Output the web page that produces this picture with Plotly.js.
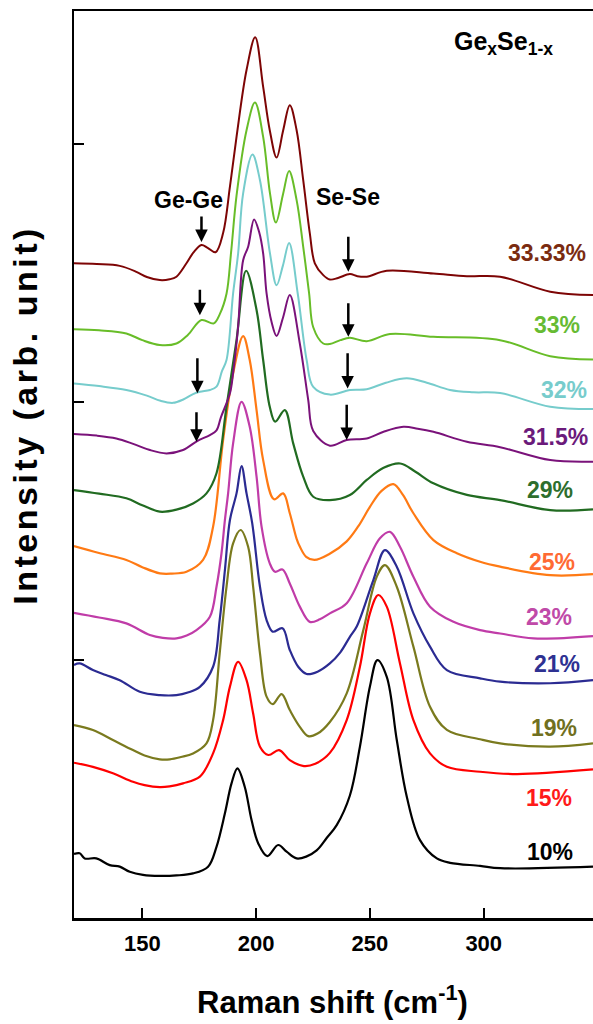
<!DOCTYPE html>
<html>
<head>
<meta charset="utf-8">
<script src="https://cdn.plot.ly/plotly-3.0.1.min.js"></script>
<style>
html,body{margin:0;padding:0;overflow:hidden;background:#fff;}
#chart{width:593px;height:1024px;}
</style>
</head>
<body>
<div id="chart"></div>
<script>
// Raman shift (cm-1) and stacked intensity (arb. unit) for each composition
const x10 = [120,122.5,124.7,129.8,135.7,140.1,144.5,150.3,157.7,165,172.3,178.9,182.6,186.3,189.2,191.8,195,198,200.9,204.9,209.7,213.4,217.8,222,226.6,231,235.4,241.2,245.6,250,253.3,257.4,261.8,266.2,272,279.4,285.2,298.4,307.2,348];
const y10 = [0.248,0.251,0.231,0.231,0.205,0.199,0.179,0.167,0.163,0.165,0.173,0.199,0.276,0.406,0.522,0.580,0.509,0.380,0.290,0.240,0.283,0.257,0.231,0.238,0.262,0.31,0.36,0.475,0.664,0.897,1.0,0.935,0.690,0.470,0.302,0.231,0.214,0.202,0.193,0.199];

const x15 = [120,128.3,137.1,145.9,151,157.7,162,167.9,175.3,181.1,185.5,188.5,192.1,195.8,198.7,201.7,205.4,210.1,214.8,221,226,232.4,239.8,245.6,250,253.7,257.4,263.2,269.1,276.4,283.8,298.4,314.6,348];
const y15 = [0.602,0.586,0.561,0.528,0.515,0.507,0.510,0.522,0.548,0.638,0.767,0.897,0.993,0.922,0.793,0.664,0.632,0.651,0.612,0.589,0.598,0.64,0.767,0.974,1.181,1.252,1.207,0.987,0.767,0.638,0.586,0.567,0.558,0.576];

const x19 = [120,128.3,137.1,145.9,151,157.7,162.1,167,172.3,178.2,181.1,184,187,189.9,193.2,196.5,198.7,201.7,204.6,207.3,211.2,214.8,219.2,222.9,227,232.4,239.8,247.1,253,256.6,261.8,269.1,276.4,283.8,298.4,307.2,329.2,348];
const y19 = [0.748,0.729,0.690,0.651,0.630,0.615,0.615,0.624,0.638,0.677,0.767,1.026,1.284,1.452,1.504,1.439,1.284,1.026,0.858,0.829,0.868,0.806,0.741,0.705,0.715,0.76,0.871,1.116,1.323,1.368,1.284,1.052,0.819,0.729,0.693,0.677,0.664,0.677];

const x21 = [120,122.5,128.3,134,140.1,148.9,157.7,165,170,175.3,181.1,184,186.3,188.5,191.4,193.6,195.8,198.3,201.7,204.6,207.3,211.6,214.8,218.5,222.2,227,232.4,237,241.2,244.2,251.5,256.6,261.8,269.1,276.4,283.8,298.4,307.2,329.2,348];
const y21 = [0.981,0.987,0.961,0.942,0.922,0.877,0.864,0.864,0.874,0.896,0.974,1.155,1.349,1.543,1.646,1.752,1.646,1.530,1.284,1.155,1.110,1.123,1.039,0.974,0.946,0.955,0.987,1.03,1.09,1.13,1.310,1.426,1.362,1.181,1.052,0.961,0.929,0.916,0.910,0.922];

const x23 = [120,131,143,153.3,159,165,169.5,173.8,179.7,182.6,184.8,186.3,187.7,189.9,193.6,197.2,200.2,202.4,206,208.3,211.6,214.8,219.2,223.6,228,232.4,239.8,248.6,254.4,258.8,263.2,269.1,276.4,286.7,298.4,307.2,321.9,348];
const y23 = [1.183,1.165,1.142,1.097,1.086,1.084,1.095,1.116,1.168,1.284,1.414,1.543,1.646,1.840,2.001,1.904,1.711,1.517,1.375,1.342,1.351,1.297,1.207,1.148,1.158,1.181,1.220,1.375,1.472,1.497,1.439,1.323,1.207,1.148,1.116,1.103,1.084,1.093];

const x25 = [120,131,143,150,157.7,163,169.4,176.7,181.1,185.5,189.9,194.3,197.2,200.2,203.1,207.9,211.9,214.8,217.8,219.2,222,225.6,232,239.8,245,250,255,260.3,264.5,269.1,277.9,288.2,298.4,307.2,329.2,348];
const y25 = [1.442,1.415,1.388,1.36,1.336,1.335,1.342,1.388,1.517,1.853,2.111,2.256,2.163,1.969,1.775,1.623,1.646,1.569,1.47,1.44,1.40,1.388,1.41,1.46,1.52,1.594,1.655,1.682,1.64,1.569,1.465,1.414,1.381,1.362,1.329,1.333];

const x29 = [120,131,143,150,157.7,165,172.3,178.2,182.6,187,191.4,195.6,200.2,203.1,206,208.4,212.6,216.3,220.7,225.1,232.4,241.2,248.6,256,263.3,270,277.9,292.6,307.2,329.2,348];
const y29 = [1.659,1.645,1.627,1.600,1.575,1.583,1.607,1.646,1.724,1.982,2.240,2.509,2.357,2.163,1.982,1.924,1.969,1.840,1.711,1.633,1.620,1.640,1.698,1.745,1.762,1.73,1.685,1.640,1.62,1.581,1.584];

const x315 = [120,130,138.6,146,153,160.6,167.9,174.1,179.7,182.6,184.5,188.5,190,192.1,194.3,196.5,199.1,201.3,203.1,204.6,206.8,209,211.9,214.8,219.2,222.9,225.1,232.4,239.8,248.6,256,264.7,271,277.9,292.6,307.2,329.2,348];
const y315 = [1.876,1.870,1.859,1.838,1.815,1.801,1.814,1.849,1.872,1.89,1.94,2.034,2.12,2.292,2.55,2.602,2.708,2.66,2.576,2.421,2.31,2.256,2.33,2.415,2.227,2.008,1.888,1.831,1.853,1.859,1.885,1.904,1.897,1.885,1.846,1.825,1.775,1.769];

const x32 = [120,131,143,152,158,163.5,168,172.3,175.3,179.7,182.6,185,187,189.9,192.1,194.3,198.4,201.7,206.1,209,211.8,214.5,218.3,222.2,225.1,232.4,241.2,248.6,257,266.2,275,285.2,295.5,307.2,329.2,348];
const y32 = [2.072,2.062,2.047,2.025,2.005,1.997,2.010,2.031,2.040,2.047,2.06,2.12,2.163,2.421,2.576,2.809,2.960,2.860,2.576,2.453,2.53,2.617,2.42,2.163,2.059,2.029,2.047,2.05,2.075,2.092,2.075,2.047,2.038,2.035,1.982,1.973];

const x33 = [120,131,143,150,157.7,165,170,176,181.4,184,187,189,191.4,195.8,199.5,203.1,206.1,208.7,211.9,214.5,217.8,220.7,223.3,225.1,229.5,232.4,237,241.2,248.6,258.8,277.9,307.2,329.2,348];
const y33 = [2.282,2.278,2.266,2.240,2.221,2.227,2.26,2.318,2.305,2.34,2.42,2.58,2.80,3.054,3.161,3.028,2.809,2.696,2.809,2.896,2.783,2.602,2.42,2.29,2.227,2.225,2.24,2.249,2.236,2.264,2.253,2.240,2.178,2.165];

const x3333 = [120,130,140.1,147.4,152,157.7,162,165,169.4,172.5,176,178.7,182.2,185.5,188.5,191.4,195.8,199.6,203.1,206,209,211.9,214.8,217.8,220.7,223.6,225.8,229.5,232.4,236,241.2,244.5,248.6,257.4,277.9,292.6,307.2,329.2,348];
const y3333 = [2.538,2.535,2.528,2.505,2.485,2.473,2.476,2.486,2.538,2.58,2.609,2.598,2.581,2.655,2.835,3.028,3.287,3.414,3.222,3.054,2.948,3.054,3.151,3.054,2.860,2.654,2.538,2.492,2.475,2.481,2.496,2.488,2.486,2.509,2.498,2.488,2.486,2.428,2.415];

const seriesLabels = ['10%','15%','19%','21%','23%','25%','29%','31.5%','32%','33%','33.33%'];
const seriesX = [x10,x15,x19,x21,x23,x25,x29,x315,x32,x33,x3333];
const seriesY = [y10,y15,y19,y21,y23,y25,y29,y315,y32,y33,y3333];
const lineColors = ['#000000','#ff0000','#7a7a1e','#2b2b92','#c03ca8','#ff7a14','#216b21','#7a127a','#76cccc','#68bd28','#7d0505'];
const labelColors = ['#000000','#ff1a1a','#707020','#2e3192','#c04aa8','#ff6a33','#2d6e2d','#6b1a7b','#77cccc','#66bb33','#7a2b10'];
// label anchor points (data coords)
const labelPosX = [329.2,328.8,330.7,332.4,328.5,330,329.2,331.4,335.1,332.2,327.8];
const labelPosY = [0.257,0.464,0.735,0.983,1.168,1.381,1.659,1.866,2.047,2.298,2.576];

const xTicks = [150,200,250,300];

const font = 'Liberation Sans, Arial, Helvetica, sans-serif';

const traces = seriesLabels.map((name,i)=>({
  type:'scatter', mode:'lines', name:name,
  x:seriesX[i], y:seriesY[i],
  line:{color:lineColors[i], width:(i<7?2.2:2), shape:'spline', smoothing:1},
  hoverinfo:'skip'
}));

const annotations = [];
seriesLabels.forEach((t,i)=>{
  annotations.push({x:labelPosX[i], y:labelPosY[i], xref:'x', yref:'y', text:'<b>'+t+'</b>',
    showarrow:false, xanchor:'center', yanchor:'middle',
    font:{family:font, size:23, color:labelColors[i]}});
});

// arrows: [x, tipY, tailY]
const arrows = [
  [176.0,2.621,2.725],[175.3,2.337,2.441],[174.2,2.034,2.176],[173.8,1.846,1.966],
  [240.5,2.505,2.647],[240.5,2.253,2.389],[240.2,2.053,2.195],[239.8,1.853,1.995]
];
arrows.forEach(a=>{
  annotations.push({x:a[0], y:a[1], ax:a[0], ay:a[2], xref:'x', yref:'y', axref:'x', ayref:'y',
    text:'', showarrow:true, arrowhead:2, arrowsize:1, arrowwidth:2.5, arrowcolor:'#000'});
});
annotations.push({x:170.1, y:2.783, xref:'x', yref:'y', text:'<b>Ge-Ge</b>', showarrow:false,
  font:{family:font, size:23, color:'#000'}});
annotations.push({x:240.4, y:2.795, xref:'x', yref:'y', text:'<b>Se-Se</b>', showarrow:false,
  font:{family:font, size:23, color:'#000'}});
annotations.push({x:308.6, y:3.391, xref:'x', yref:'y', text:'<b>Ge<sub>x</sub>Se<sub>1-x</sub></b>', showarrow:false,
  font:{family:font, size:25, color:'#000'}});
// axis titles
const yTitleIndex = annotations.length;
annotations.push({x:0, y:0.5546, xref:'paper', yref:'paper', xanchor:'center', yanchor:'middle', xshift:-49,
  textangle:-90, text:'<b>Intensity (arb. unit)</b>', showarrow:false, font:{family:font, size:34, color:'#000'}});
annotations.push({x:0.499, y:0, xref:'paper', yref:'paper', xanchor:'center', yanchor:'middle', yshift:-82,
  text:'<b>Raman shift (cm<sup>-1</sup>)</b>', showarrow:false, font:{family:font, size:31, color:'#000'}});

const layout = {
  width:593, height:1024,
  margin:{l:74, r:0, t:11, b:106},
  paper_bgcolor:'#fff', plot_bgcolor:'#fff',
  showlegend:false,
  xaxis:{range:[120,348], tickvals:xTicks, ticktext:xTicks.map(v=>'<b>'+v+'</b>'),
    ticks:'inside', ticklen:10, tickwidth:2, tickcolor:'#000',
    showline:true, linewidth:2.5, linecolor:'#000', mirror:true,
    showgrid:false, zeroline:false, ticklabelstandoff:4,
    tickfont:{family:font, size:22, color:'#000'}},
  yaxis:{range:[0,3.516], tickvals:[1,2,3], showticklabels:false,
    ticks:'inside', ticklen:10, tickwidth:2, tickcolor:'#000',
    showline:true, linewidth:2.5, linecolor:'#000', mirror:false,
    showgrid:false, zeroline:false},
  annotations:annotations
};

Plotly.newPlot('chart', traces, layout, {staticPlot:true, displayModeBar:false}).then(gd=>{
  const t = gd.querySelector('g.annotation[data-index="'+yTitleIndex+'"] text.annotation-text');
  if (t) { t.style.letterSpacing = '3.5px'; }
});
</script>
</body>
</html>
